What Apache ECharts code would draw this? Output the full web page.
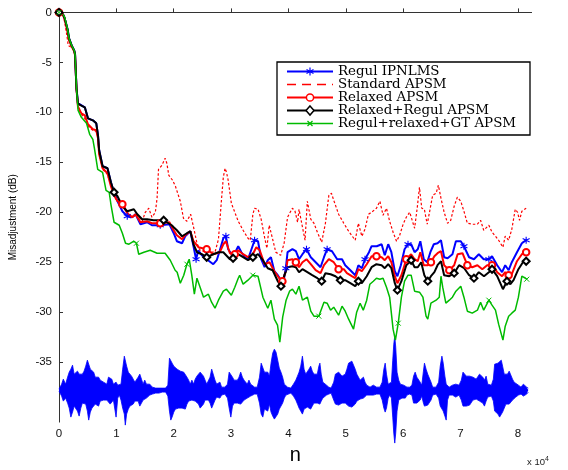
<!DOCTYPE html>
<html><head><meta charset="utf-8">
<script src="https://cdn.jsdelivr.net/npm/echarts@6/dist/echarts.min.js"></script>
<style>html,body{margin:0;padding:0;background:#fff}#c{width:568px;height:470px}</style>
</head><body><div id="c"></div>
<script>
// ---------- DATA ----------
const seriesNames = ['Regul IPNLMS','Standard APSM','Relaxed APSM','Relaxed+Regul APSM','Regul+relaxed+GT APSM'];
const xTicks = [0,10000,20000,30000,40000,50000,60000,70000,80000];
const xTickLabels = ['0','1','2','3','4','5','6','7','8'];
const yTicks = [0,-5,-10,-15,-20,-25,-30,-35];

const regulIPNLMS = [[0,0],[700,-0.2],[1000,-0.6],[1500,-1.7],[1750,-2.6],[2200,-3.3],[2650,-3.8],[2800,-4.2],[2900,-5.6],[3050,-7.6],[3300,-9.1],[3650,-9.2],[4500,-9.5],[5050,-10.6],[5900,-10.8],[6500,-11.1],[6800,-12.3],[7000,-13.8],[7600,-15.4],[8450,-15.6],[9050,-17.0],[9600,-18.0],[10200,-18.9],[11050,-19.9],[11900,-20.4],[12750,-20.5],[13350,-20.2],[14200,-21.2],[15350,-21.0],[16200,-21.3],[17650,-21.3],[19250,-21.2],[20000,-22.1],[20550,-22.9],[21450,-23.1],[22000,-22.4],[22900,-21.9],[23450,-23.4],[23900,-24.7],[24300,-23.8],[24900,-24.3],[25750,-24.7],[26900,-25.2],[27500,-24.8],[28050,-23.8],[28650,-22.6],[29100,-22.4],[29500,-23.7],[30100,-24.2],[30650,-24.1],[31250,-23.4],[31800,-24.0],[32400,-24.5],[32950,-24.7],[33500,-23.8],[34100,-22.8],[34700,-22.9],[35250,-24.7],[35850,-25.5],[36400,-24.8],[36950,-24.5],[37550,-25.9],[38150,-26.3],[38700,-26.8],[39150,-26.9],[39550,-25.6],[39850,-24.0],[40700,-23.7],[41300,-23.9],[41850,-24.7],[42450,-24.2],[43150,-23.7],[43900,-24.5],[44750,-25.0],[45600,-25.5],[46200,-24.5],[46750,-23.7],[47600,-23.9],[48500,-24.7],[49350,-24.7],[49900,-25.3],[50800,-25.8],[51650,-26.3],[52200,-25.3],[52800,-25.6],[53350,-24.7],[54050,-24.0],[54500,-23.4],[55400,-23.4],[56250,-23.2],[56800,-24.3],[57400,-23.2],[57950,-24.0],[58550,-25.9],[59000,-26.4],[59600,-25.3],[60250,-23.7],[60850,-23.2],[61400,-23.2],[62000,-24.0],[62550,-23.7],[63000,-22.9],[63600,-24.7],[64200,-25.0],[64750,-24.0],[65350,-23.2],[66000,-23.1],[66600,-22.8],[67150,-24.5],[67750,-24.6],[68600,-24.2],[69200,-22.9],[70050,-22.9],[70600,-23.4],[71500,-24.5],[72350,-24.7],[73200,-24.2],[74050,-24.7],[74950,-24.7],[75500,-24.4],[76400,-25.3],[77250,-26.0],[77800,-25.3],[78400,-25.8],[78950,-25.0],[79850,-24.0],[80700,-23.1],[81450,-22.8]];

const standardAPSM = [[0,0],[700,-0.3],[1000,-1.0],[1400,-2.4],[1600,-3.3],[1800,-3.5],[2200,-3.5],[2650,-3.9],[2800,-4.3],[2900,-5.7],[3050,-7.8],[3300,-9.6],[3900,-10.2],[4500,-10.6],[5050,-11.4],[5900,-11.8],[6500,-11.9],[6800,-12.6],[7000,-14.2],[7600,-15.7],[8450,-16.2],[9050,-17.3],[9600,-18.4],[10200,-18.9],[11050,-19.1],[11900,-19.9],[12750,-20.5],[13600,-20.2],[14500,-20.9],[15050,-20.0],[15650,-19.6],[16200,-20.5],[16800,-20.0],[17100,-18.6],[17350,-15.7],[17950,-15.3],[18500,-14.6],[18800,-15.1],[19150,-16.3],[19800,-16.8],[20300,-17.4],[21150,-18.9],[21700,-20.6],[22300,-20.9],[22950,-20.2],[23500,-21.6],[24050,-23.1],[24600,-23.8],[25750,-24.0],[27200,-24.0],[27800,-22.7],[28350,-18.6],[28650,-16.5],[28950,-15.6],[29200,-16.0],[29500,-16.8],[30050,-19.1],[30650,-20.0],[31250,-20.9],[32100,-21.8],[32950,-22.6],[33350,-22.8],[33800,-20.2],[34100,-19.6],[34700,-19.7],[35250,-20.7],[35800,-22.4],[36250,-23.6],[36650,-21.3],[37250,-22.7],[37800,-24.0],[38650,-24.3],[39250,-23.1],[39850,-20.5],[40400,-19.9],[40700,-19.6],[41150,-19.9],[41600,-21.0],[41850,-19.7],[42450,-21.5],[42900,-22.8],[43300,-18.9],[43900,-20.7],[44450,-21.1],[45050,-22.0],[45800,-23.0],[46450,-21.1],[47050,-18.3],[47500,-18.1],[47900,-18.8],[48750,-20.2],[49650,-21.1],[50500,-21.9],[51650,-22.8],[52200,-21.1],[52800,-22.4],[53350,-21.7],[53950,-20.2],[54500,-20.0],[55350,-19.6],[55950,-18.9],[56500,-20.3],[57100,-19.6],[57650,-20.9],[58250,-22.0],[58850,-22.9],[59400,-22.3],[60000,-21.2],[60550,-20.5],[61150,-20.0],[61400,-20.0],[62000,-21.6],[62450,-19.6],[62850,-17.5],[63250,-19.6],[63700,-19.7],[64200,-21.2],[64600,-20.0],[65150,-18.3],[65750,-18.1],[66150,-17.3],[66600,-18.6],[67150,-20.0],[67750,-21.1],[68300,-20.8],[68900,-19.4],[69450,-18.5],[70050,-18.9],[70600,-19.9],[71200,-21.1],[72050,-21.2],[72950,-21.2],[73500,-20.8],[74050,-21.8],[74950,-21.3],[75500,-22.0],[76100,-22.4],[76650,-22.8],[77400,-23.5],[77800,-22.4],[78400,-22.8],[78950,-21.7],[79550,-19.7],[79950,-20.0],[80300,-20.8],[80700,-19.9],[81450,-19.6]];

const relaxedAPSM = [[0,0],[700,-0.2],[1000,-0.7],[1500,-2.0],[1750,-2.8],[2200,-3.4],[2650,-3.9],[2800,-4.3],[2900,-5.7],[3050,-7.7],[3300,-9.4],[3900,-10.1],[4500,-10.3],[5050,-11.2],[5900,-11.7],[6500,-11.8],[6800,-12.6],[7000,-14.2],[7600,-15.6],[8450,-16.1],[9050,-17.4],[9600,-18.3],[10200,-18.9],[11050,-19.2],[11900,-20.1],[12750,-20.5],[13350,-20.2],[14200,-21.0],[15350,-20.9],[16200,-21.1],[17650,-21.1],[19250,-21.0],[20000,-21.8],[20550,-22.3],[21450,-22.7],[22000,-22.3],[22900,-21.9],[23450,-22.9],[24300,-23.5],[25750,-23.7],[26900,-24.2],[28050,-24.0],[28650,-23.2],[29100,-22.9],[29800,-24.1],[30650,-24.2],[31250,-23.8],[32100,-24.2],[32950,-24.5],[33800,-24.2],[34400,-23.5],[35000,-23.8],[35850,-25.2],[36700,-25.0],[37550,-25.9],[38400,-26.6],[38950,-26.9],[39550,-25.9],[39850,-24.8],[40700,-24.7],[41300,-25.0],[41850,-25.5],[42450,-25.0],[43150,-24.7],[43900,-25.2],[44750,-25.8],[45600,-26.1],[46200,-25.3],[47050,-24.7],[47900,-25.0],[48750,-25.7],[49650,-25.7],[50200,-26.1],[51050,-26.4],[51650,-26.6],[52200,-25.7],[52800,-25.9],[53650,-25.2],[54500,-24.4],[55350,-24.4],[56250,-24.5],[56800,-24.8],[57400,-24.4],[57950,-25.0],[58550,-26.4],[59000,-27.1],[59700,-26.3],[60550,-24.7],[61400,-24.2],[62000,-24.7],[62550,-24.9],[63000,-24.0],[63600,-25.3],[64300,-25.3],[64850,-25.0],[65450,-24.4],[66000,-24.1],[66600,-23.9],[67150,-25.3],[68050,-25.8],[68900,-25.3],[69500,-24.2],[70350,-24.1],[71200,-25.3],[72050,-25.5],[72950,-25.3],[73800,-25.7],[74650,-25.3],[75500,-25.3],[76400,-26.0],[77250,-26.4],[77800,-26.0],[78400,-26.3],[78950,-26.2],[79850,-24.9],[80700,-24.2],[81450,-24.0]];

const relaxedRegulAPSM = [[0,0],[700,-0.2],[1000,-0.6],[1500,-1.7],[1750,-2.6],[2200,-3.3],[2650,-3.8],[2800,-4.2],[2900,-5.6],[3050,-7.6],[3300,-9.1],[3650,-9.25],[4500,-9.5],[5050,-10.6],[5900,-10.8],[6500,-11.1],[6800,-12.3],[7000,-13.8],[7600,-15.4],[8450,-15.6],[9050,-17.0],[9600,-18.0],[10200,-18.4],[11050,-19.4],[11900,-19.9],[13050,-19.7],[13650,-20.2],[14500,-20.7],[15350,-20.7],[16500,-20.8],[18250,-20.8],[19650,-21.3],[20000,-21.5],[20550,-21.8],[21450,-22.4],[22300,-22.1],[22900,-21.9],[23450,-23.2],[24050,-24.0],[24900,-24.2],[25750,-24.5],[26900,-24.2],[27800,-24.0],[28650,-24.0],[29800,-24.7],[30350,-24.6],[31250,-24.2],[32100,-24.5],[32950,-24.8],[33800,-24.5],[34700,-24.2],[35550,-24.8],[36400,-25.6],[37250,-25.8],[38150,-26.9],[38700,-27.4],[39300,-26.3],[39850,-25.5],[40700,-25.4],[41300,-25.5],[41850,-26.0],[42450,-25.7],[43300,-26.0],[44150,-26.3],[45050,-26.6],[45800,-26.9],[46450,-26.1],[47350,-26.2],[48200,-26.4],[49050,-26.8],[49900,-26.8],[50800,-27.1],[51650,-27.4],[52200,-26.9],[52800,-27.1],[53650,-26.4],[54500,-25.5],[55350,-25.2],[56250,-25.3],[56800,-25.6],[57400,-25.2],[57950,-25.6],[58550,-27.1],[59000,-27.8],[59700,-26.9],[60550,-25.3],[61400,-24.8],[62000,-25.5],[62550,-25.5],[63150,-25.0],[63700,-26.3],[64300,-26.9],[64850,-26.4],[65450,-26.0],[66000,-25.3],[66600,-24.9],[67150,-26.3],[68050,-26.4],[68900,-26.1],[69750,-25.3],[70650,-25.6],[71500,-26.3],[72350,-26.6],[73200,-26.0],[74100,-26.4],[74950,-26.0],[75500,-25.7],[76400,-26.4],[77400,-27.7],[78100,-26.9],[78700,-27.2],[79250,-26.8],[80100,-25.7],[81000,-24.9],[81450,-24.9]];

const regulRelaxedGT = [[0,0],[700,-0.2],[1000,-0.5],[1500,-1.7],[1750,-2.6],[2200,-3.3],[2650,-3.8],[2800,-4.2],[2900,-5.6],[3050,-7.6],[3330,-9.8],[3900,-10.5],[4800,-11.1],[5350,-12.2],[5900,-12.7],[6150,-13.5],[6750,-15.7],[7600,-16.0],[8200,-17.8],[8750,-18.0],[9050,-19.2],[9600,-21.0],[10500,-21.3],[11050,-22.1],[11600,-23.1],[12200,-23.2],[13050,-22.9],[13500,-23.1],[13900,-24.2],[14800,-24.0],[15900,-23.8],[17100,-24.1],[18500,-24.1],[19400,-24.8],[20250,-25.8],[20600,-26.0],[21150,-27.1],[21750,-26.3],[22300,-25.2],[22700,-24.7],[23150,-26.3],[23600,-28.2],[24050,-26.6],[24600,-27.5],[25200,-28.5],[26050,-28.2],[26600,-29.0],[27200,-29.6],[27800,-28.8],[28650,-27.9],[29200,-27.7],[30050,-28.3],[30650,-27.5],[31250,-26.6],[31500,-26.3],[32100,-27.2],[32950,-26.8],[33800,-26.3],[34700,-26.4],[35550,-28.5],[36400,-29.6],[36950,-28.8],[37550,-30.7],[38100,-31.3],[38500,-33.0],[39000,-30.5],[39600,-28.8],[40200,-27.9],[40700,-27.7],[41300,-28.2],[41850,-27.4],[42450,-28.8],[43300,-28.5],[43900,-29.9],[44450,-30.4],[45300,-30.4],[46200,-29.0],[46750,-29.1],[47350,-29.8],[47900,-29.5],[48750,-30.3],[49350,-29.4],[49900,-29.9],[50500,-30.7],[51350,-31.7],[51900,-30.0],[52500,-29.1],[53050,-29.8],[53650,-28.8],[54200,-27.2],[54800,-26.9],[55350,-26.6],[55950,-26.7],[56500,-26.6],[57100,-27.5],[57650,-28.5],[58250,-31.7],[58650,-32.8],[59150,-31.1],[59700,-28.5],[60250,-26.9],[60850,-26.3],[61400,-26.3],[62000,-27.9],[62850,-28.0],[63450,-28.5],[64000,-30.4],[64300,-30.7],[64850,-29.1],[65750,-28.8],[66300,-28.5],[66600,-26.4],[66900,-27.5],[67450,-29.1],[68050,-28.8],[68600,-28.5],[69200,-27.9],[70050,-27.4],[70600,-28.5],[71200,-29.9],[72050,-30.1],[72950,-29.8],[73500,-29.0],[74050,-29.8],[74950,-28.8],[75500,-29.3],[76100,-29.8],[76650,-31.2],[77400,-32.8],[77800,-31.4],[78400,-30.4],[78950,-30.1],[79550,-29.8],[80100,-28.5],[80700,-26.4],[81550,-26.7]];

// marker positions (sample index n)
const markIPNLMS = [0,12250,18290,23800,28980,34160,39500,42950,47090,53650,60900,70560,74880,81250];
const markRelaxed = [0,11040,18290,25530,30360,38990,41230,48470,55370,60550,64860,68310,71420,75210,78660,81250];
const markRelaxedRegul = [0,9660,18290,25530,30360,33640,38640,45710,49340,52440,59170,61070,64520,69170,72280,75560,78320,81250];
const markGT = [0,13280,22080,33810,45540,59170,75210,81250];

// speech signal envelope (dB scale of the plot), upper / lower
const waveBase = -37.8;
const waveN = [0,460,750,1150,1500,1780,2070,2360,2640,2930,3220,3510,3800,4080,4370,4660,4950,5180,5460,5750,6040,6320,6610,6900,7190,7480,7760,8050,8340,8630,8920,9200,9490,9780,9950,10240,10520,10810,11100,11390,11560,11790,12080,12360,12650,12940,13230,13510,13800,14090,14380,14660,14950,15240,15530,15820,16270,16850,17430,18000,18580,18980,19260,19490,19720,20010,20300,20590,20870,21160,21450,21740,22020,22310,22600,22890,23170,23460,23750,24040,24320,24610,24900,25190,25470,25760,26050,26340,26620,26910,27200,27490,27780,28060,28350,28920,29380,29670,29960,30250,30530,30820,31110,31390,31680,31970,32260,32540,32830,33120,33410,33700,34100,34560,34960,35250,35540,35820,36110,36400,36690,36970,37260,37550,37840,38130,38410,38700,38990,39280,39560,39850,40420,40880,41290,41580,41860,42150,42440,42730,43010,43300,43590,43880,44160,44450,44740,45030,45310,45490,45720,46000,46290,46640,47040,47440,47900,48190,48480,48760,49050,49340,49630,49910,50200,50490,50780,51060,51350,51640,51930,52210,52500,52790,53080,53360,53650,54230,54800,55380,55950,56350,56640,56870,57100,57390,57680,57960,58190,58370,58540,58710,58940,59230,59520,59800,60090,60380,60670,61130,61530,61820,62100,62390,62680,62970,63250,63540,63720,64000,64290,64580,64860,65150,65730,66190,66470,66760,66990,67280,67510,67740,68030,68600,69180,69750,70150,70440,70730,71020,71300,71590,71880,72170,72450,72740,73030,73320,73600,73890,74180,74470,74750,75040,75390,75730,75960,76250,76540,76820,77110,77340,77630,77920,78200,78490,78780,79070,79350,79640,80100,80560,80960,81250,81540,81830];
const waveHi = [-37.7,-37.2,-36.7,-37.2,-36.5,-36.0,-35.7,-35.3,-36.2,-36.0,-35.9,-36.2,-36.4,-36.2,-35.9,-35.4,-34.8,-34.9,-35.7,-35.9,-36.0,-36.5,-36.4,-36.5,-36.8,-36.7,-37.0,-36.8,-37.2,-36.5,-36.4,-36.7,-37.2,-37.3,-37.0,-37.3,-37.5,-37.2,-35.7,-34.4,-34.6,-35.4,-36.0,-36.2,-36.4,-36.7,-37.0,-36.8,-36.5,-36.2,-36.7,-37.2,-36.8,-37.2,-37.3,-37.2,-37.5,-37.6,-37.6,-37.6,-37.6,-37.3,-34.6,-34.7,-35.1,-35.4,-35.6,-35.7,-35.6,-35.9,-35.7,-36.0,-36.2,-36.5,-36.8,-37.2,-36.8,-37.2,-36.7,-36.4,-36.2,-36.0,-35.9,-36.4,-36.8,-37.2,-37.0,-36.5,-35.7,-35.6,-36.8,-37.2,-37.3,-37.0,-37.5,-37.5,-37.2,-36.0,-36.2,-36.5,-36.8,-36.7,-36.8,-36.5,-36.0,-36.5,-36.8,-37.0,-37.2,-36.8,-37.2,-37.3,-37.5,-37.5,-36.5,-35.1,-35.2,-36.0,-36.2,-36.0,-36.4,-35.1,-34.1,-33.7,-34.0,-34.8,-35.6,-36.0,-36.5,-37.2,-37.3,-37.5,-37.6,-37.2,-36.8,-36.4,-36.0,-35.4,-34.4,-35.7,-36.2,-36.0,-35.7,-35.4,-35.9,-36.2,-36.0,-36.2,-35.4,-35.1,-36.2,-37.0,-37.2,-37.3,-37.5,-37.6,-37.0,-36.2,-36.4,-36.0,-35.9,-36.4,-36.5,-36.2,-35.7,-35.1,-34.9,-34.9,-35.1,-35.7,-36.2,-36.4,-36.8,-37.0,-36.5,-37.0,-37.3,-37.5,-37.3,-37.5,-37.5,-37.0,-35.7,-35.1,-36.2,-37.2,-37.3,-37.0,-34.8,-33.2,-32.4,-33.5,-36.0,-36.8,-37.2,-37.0,-37.3,-37.2,-37.5,-37.5,-37.3,-36.4,-36.0,-36.5,-36.7,-37.0,-37.3,-35.9,-35.1,-35.7,-36.2,-36.0,-37.0,-37.5,-37.5,-37.0,-35.4,-34.4,-35.1,-36.4,-37.2,-37.3,-37.5,-37.3,-37.2,-37.3,-36.8,-36.0,-36.2,-36.4,-36.5,-36.4,-36.2,-36.5,-36.5,-36.7,-36.5,-36.2,-36.0,-36.5,-36.8,-36.4,-37.2,-37.3,-37.3,-36.7,-35.2,-35.4,-35.1,-34.9,-34.8,-35.4,-36.2,-36.4,-36.2,-35.9,-35.7,-36.7,-37.0,-37.2,-37.3,-37.5,-37.2,-37.3,-37.5,-37.6];
const waveLo = [-37.9,-38.4,-38.9,-38.6,-39.1,-39.6,-40.5,-40.0,-39.4,-39.2,-39.9,-40.4,-39.6,-39.1,-38.9,-39.2,-39.9,-40.8,-40.0,-39.6,-39.7,-39.2,-39.1,-39.4,-38.9,-39.1,-38.8,-38.6,-38.8,-38.9,-39.2,-39.4,-38.8,-38.6,-40.5,-38.6,-38.3,-38.8,-39.6,-40.2,-41.3,-40.2,-39.7,-39.4,-39.6,-39.2,-38.9,-39.1,-38.9,-39.4,-39.1,-38.8,-38.9,-38.6,-38.4,-38.3,-38.2,-38.1,-38.1,-38.0,-38.0,-38.4,-39.9,-40.8,-40.5,-40.0,-39.7,-39.9,-39.6,-39.4,-39.6,-39.4,-39.7,-39.2,-38.9,-38.8,-38.8,-38.6,-38.9,-39.1,-39.2,-39.6,-39.4,-39.2,-38.8,-38.6,-38.8,-39.1,-39.6,-39.7,-38.8,-38.5,-38.4,-38.6,-38.3,-38.2,-38.6,-39.6,-40.5,-39.4,-39.1,-38.9,-39.1,-39.1,-39.2,-39.1,-38.8,-38.6,-38.6,-38.5,-38.4,-38.3,-38.2,-38.2,-39.1,-40.2,-40.5,-39.7,-39.6,-39.9,-39.2,-40.0,-40.4,-40.7,-40.8,-40.2,-39.7,-39.6,-39.1,-38.6,-38.3,-38.2,-38.1,-38.4,-38.8,-39.2,-39.6,-39.9,-40.2,-39.7,-39.6,-39.5,-39.6,-39.7,-39.4,-39.1,-39.2,-39.1,-39.1,-39.2,-38.9,-38.6,-38.4,-38.3,-38.2,-38.1,-38.8,-39.2,-39.4,-39.3,-39.4,-39.1,-38.9,-39.1,-39.2,-39.4,-39.6,-39.5,-39.4,-39.2,-38.9,-38.8,-38.7,-38.6,-38.6,-38.5,-38.3,-38.3,-38.3,-38.2,-38.2,-38.8,-39.6,-40.0,-39.6,-38.6,-38.3,-38.6,-40.5,-42.1,-43.1,-42.1,-39.9,-38.8,-38.6,-38.6,-38.5,-38.6,-38.3,-38.2,-38.3,-39.1,-39.2,-39.1,-38.9,-38.8,-38.4,-39.1,-39.4,-39.4,-39.3,-39.4,-38.8,-38.3,-38.2,-38.6,-39.4,-39.6,-39.9,-40.4,-40.8,-38.8,-38.3,-38.3,-38.5,-38.3,-38.8,-39.4,-39.2,-39.4,-39.6,-39.3,-39.1,-38.8,-38.6,-38.7,-38.8,-38.9,-38.9,-39.1,-39.4,-38.9,-38.5,-38.4,-38.4,-38.9,-39.9,-40.0,-40.2,-40.5,-40.4,-40.0,-39.6,-39.2,-39.3,-39.2,-39.2,-38.8,-38.6,-38.5,-38.3,-38.2,-38.4,-38.3,-38.2,-38.0];

// ---------- CHART ----------
const STAR = 'path://M5,0L5,10M0.67,2.5L9.33,7.5M0.67,7.5L9.33,2.5';
const XMARK = 'path://M0,0L10,10M0,10L10,0';
function markSet(data, marks){
  const s = new Set();
  marks.forEach(m => {
    let bi = 0, bd = Infinity;
    data.forEach((d,i) => { const dd = Math.abs(d[0]-m); if (dd < bd) { bd = dd; bi = i; } });
    s.add(bi);
  });
  return s;
}
const sIP = markSet(regulIPNLMS, markIPNLMS);
const sRe = markSet(relaxedAPSM, markRelaxed);
const sRR = markSet(relaxedRegulAPSM, markRelaxedRegul);
const sGT = markSet(regulRelaxedGT, markGT);

const waveHiData = waveN.map((n,i)=>[n, waveHi[i]]);
const waveLoData = waveN.map((n,i)=>[n, waveLo[i]]);

const BLUE='#0000ff', RED='#ff0000', BLACK='#000000', GREEN='#00bb00';

// ---- manual legend (MATLAB style) ----
const LG = {x0:277, y0:62, w:253, h:73, lx1:287, lx2:333, tx:338, row0:71.5, dy:13};
const legendRows = [
  {color:BLUE, width:2, dash:null, mark:'star'},
  {color:RED, width:1.5, dash:[9,6], mark:null},
  {color:RED, width:2, dash:null, mark:'circle'},
  {color:BLACK, width:2, dash:null, mark:'diamond'},
  {color:GREEN, width:1.5, dash:null, mark:'x'}
];
const graphics = [
  {type:'rect', z:50, shape:{x:LG.x0, y:LG.y0, width:LG.w, height:LG.h}, style:{fill:'#fff', stroke:'#000', lineWidth:1.3}}
];
legendRows.forEach((r,i)=>{
  const y = LG.row0 + i*LG.dy, cx = (LG.lx1+LG.lx2)/2;
  graphics.push({type:'line', z:51, shape:{x1:LG.lx1, y1:y, x2:LG.lx2, y2:y}, style:{stroke:r.color, lineWidth:r.width, lineDash:r.dash}});
  if (r.mark==='star') {
    [[0,-4],[3.5,-2],[3.5,2]].forEach(([dx,dyy])=>graphics.push({type:'line', z:52, shape:{x1:cx-dx, y1:y-dyy, x2:cx+dx, y2:y+dyy}, style:{stroke:r.color, lineWidth:1.2}}));
  } else if (r.mark==='circle') {
    graphics.push({type:'circle', z:52, shape:{cx:cx, cy:y, r:3.6}, style:{fill:'#fff', stroke:r.color, lineWidth:1.5}});
  } else if (r.mark==='diamond') {
    graphics.push({type:'polygon', z:52, shape:{points:[[cx,y-4.6],[cx+4,y],[cx,y+4.6],[cx-4,y]]}, style:{fill:'#fff', stroke:r.color, lineWidth:1.5}});
  } else if (r.mark==='x') {
    graphics.push({type:'line', z:52, shape:{x1:cx-2.5,y1:y-2.5,x2:cx+2.5,y2:y+2.5}, style:{stroke:r.color, lineWidth:1.2}});
    graphics.push({type:'line', z:52, shape:{x1:cx-2.5,y1:y+2.5,x2:cx+2.5,y2:y-2.5}, style:{stroke:r.color, lineWidth:1.2}});
  }
  graphics.push({type:'text', z:52, x:LG.tx, y:y, style:{text:seriesNames[i], font:'13.4px "DejaVu Serif"', fill:'#000', verticalAlign:'middle', textAlign:'left'}});
});
graphics.push({type:'text', z:50, x:527, y:456, style:{text:'x 10{s|4}', rich:{s:{fontSize:7, verticalAlign:'bottom', padding:[0,0,6,0]}}, font:'9.5px "Liberation Sans"', fill:'#222'}});

const chart = echarts.init(document.getElementById('c'), null, {renderer:'canvas'});
const tickFont = {fontFamily:'Liberation Sans, Arial, sans-serif', fontSize:11.5, color:'#111'};
chart.setOption({
  animation:false,
  backgroundColor:'#ffffff',
  grid:{left:54, right:36.4, top:12.4, bottom:29},
  xAxis:{
    type:'value', min:0, max:82400,
    axisLine:{show:true, lineStyle:{color:'#333', width:1}},
    axisTick:{show:true, inside:true, length:4, customValues:xTicks, lineStyle:{color:'#333'}},
    axisLabel:Object.assign({customValues:xTicks, margin:6, formatter:v=>xTickLabels[xTicks.indexOf(v)]}, tickFont),
    splitLine:{show:false},
    name:'n', nameLocation:'middle', nameGap:20,
    nameTextStyle:{fontFamily:'Liberation Sans, Arial, sans-serif', fontSize:20, color:'#000'}
  },
  yAxis:{
    type:'value', min:-41, max:0,
    axisLine:{show:true, lineStyle:{color:'#333', width:1}},
    axisTick:{show:true, inside:true, length:4, customValues:yTicks, lineStyle:{color:'#333'}},
    axisLabel:Object.assign({customValues:yTicks, margin:7}, tickFont),
    splitLine:{show:false},
    name:'Misadjustment (dB)', nameLocation:'middle', nameGap:41,
    nameTextStyle:{fontFamily:'Liberation Sans, Arial, sans-serif', fontSize:10, color:'#000'}
  },
  graphic:graphics,
  series:[
    {name:'waveHi', type:'line', data:waveHiData, symbol:'none', clip:false, silent:true,
     lineStyle:{color:BLUE, width:0.8}, areaStyle:{color:BLUE, opacity:1, origin:waveBase}},
    {name:'waveLo', type:'line', data:waveLoData, symbol:'none', clip:false, silent:true,
     lineStyle:{color:BLUE, width:0.8}, areaStyle:{color:BLUE, opacity:1, origin:waveBase}},
    {name:seriesNames[0], type:'line', data:regulIPNLMS, showSymbol:true, symbolSize:7,
     symbol:(v,p)=> sIP.has(p.dataIndex) ? STAR : 'none',
     lineStyle:{color:BLUE, width:2}, itemStyle:{color:BLUE, borderColor:BLUE, borderWidth:1.1}},
    {name:seriesNames[1], type:'line', data:standardAPSM, symbol:'none',
     lineStyle:{color:RED, width:1.2, type:[2.5,2]}, itemStyle:{color:RED}},
    {name:seriesNames[2], type:'line', data:relaxedAPSM, showSymbol:true, symbolSize:6.5,
     symbol:(v,p)=> sRe.has(p.dataIndex) ? 'emptyCircle' : 'none',
     lineStyle:{color:RED, width:2}, itemStyle:{color:RED, borderWidth:1}},
    {name:seriesNames[3], type:'line', data:relaxedRegulAPSM, showSymbol:true, symbolSize:7,
     symbol:(v,p)=> sRR.has(p.dataIndex) ? 'emptyDiamond' : 'none',
     lineStyle:{color:BLACK, width:2}, itemStyle:{color:BLACK, borderWidth:1}},
    {name:seriesNames[4], type:'line', data:regulRelaxedGT, showSymbol:true, symbolSize:5,
     symbol:(v,p)=> sGT.has(p.dataIndex) ? XMARK : 'none',
     lineStyle:{color:GREEN, width:1.5}, itemStyle:{color:GREEN, borderColor:GREEN, borderWidth:1}}
  ]
});
</script></body></html>
